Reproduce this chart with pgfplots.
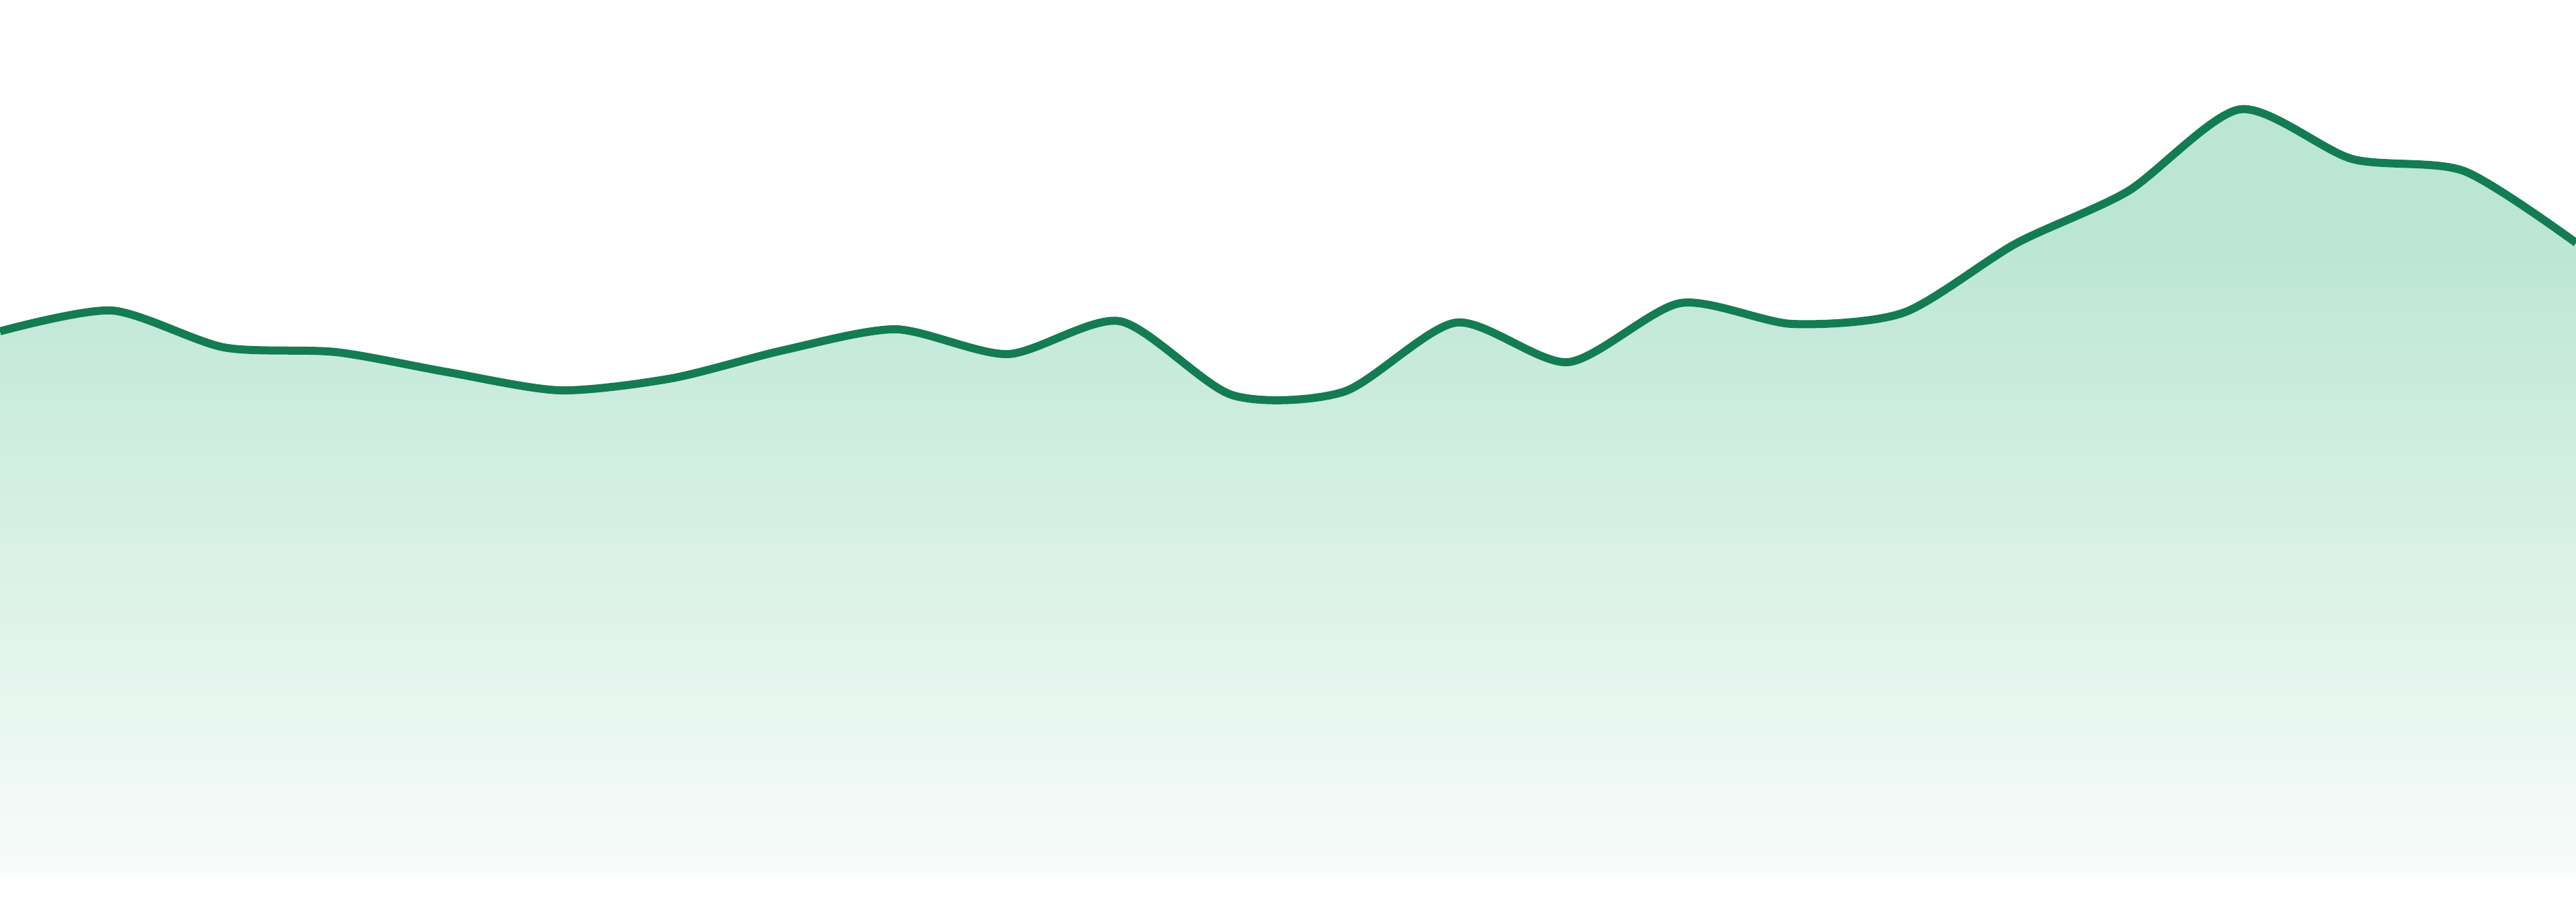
\documentclass[border=0pt]{standalone}
\usepackage{pgfplots}
\pgfplotsset{compat=1.18}

\definecolor{linegreen}{HTML}{147C52}
\definecolor{filltop}{RGB}{187,230,212}
\definecolor{fillbot}{RGB}{248,252,250}

% 25bp = bottom of the area, 75bp = its highest point
\pgfdeclareverticalshading{areafade}{100bp}{%
  color(0bp)=(fillbot); color(25bp)=(fillbot);
  color(66.6bp)=(filltop); color(100bp)=(filltop)}

\pgfplotstableread{
x  v
0  811
1  842
2  787
3  780
4  750
5  723
6  741
7  783
8  814
9  777
10 826
11 716
12 721
13 824
14 765
15 853
16 822
17 839
18 942
19 1020
20 1142
21 1068
22 1050
23 943
}\series

\begin{document}
\begin{tikzpicture}
\begin{axis}[
    scale only axis,
    width=384pt,
    height=134.4pt,
    xmin=0, xmax=23,
    ymin=-39, ymax=1305,
    axis line style={draw=none},
    ticks=none,
]
\addplot[draw=none, shading=areafade, smooth, tension=0.45]
    table[x=x, y=v] {\series} \closedcycle;
\addplot[color=linegreen, line width=1.2pt, smooth, tension=0.45, mark=none]
    table[x=x, y=v] {\series};
\end{axis}
% page is exactly the axis box
\pgfresetboundingbox
\path (current axis.south west) rectangle (current axis.north east);
\end{tikzpicture}
\end{document}
